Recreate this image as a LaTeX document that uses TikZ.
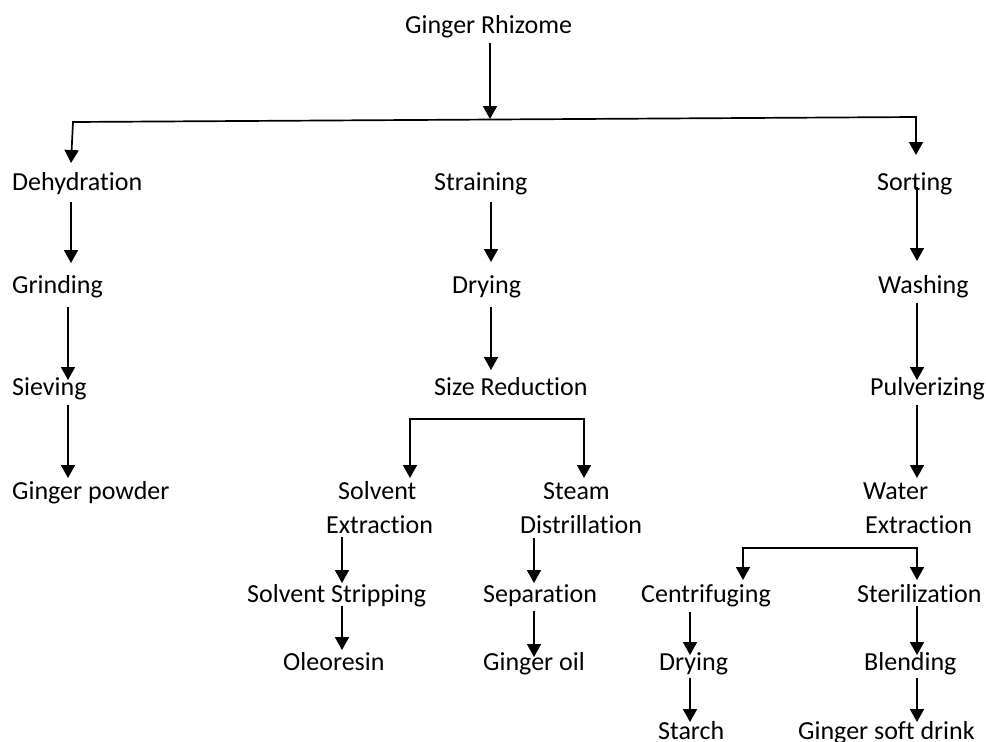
\documentclass[tikz,border=0pt]{standalone}
\usepackage{fontspec}
\setmainfont{Carlito}[Ligatures=NoCommon]
\usetikzlibrary{arrows.meta,calc}

\tikzset{
  lbl/.style={anchor=base west, inner sep=0pt, font=\fontsize{26}{30}\selectfont},
  arr/.style={line width=1.7pt, -{Triangle[width=14pt,length=13pt]}},
  fork/.style={line width=1.7pt, {Triangle[width=14pt,length=13pt]}-{Triangle[width=14pt,length=13pt]}},
}

% arrow from node #1 to node #2 along column #3;
% #4 = start offset below #1's baseline, #5 = tip offset from #2's baseline
\newcommand\flowarrow[5]{%
  \draw[arr] ($(#3 |- #1.base)+(0,#4)$) -- ($(#3 |- #2.base)+(0,#5)$);}

\begin{document}
\begin{tikzpicture}[x=1pt, y=-1pt]
\useasboundingbox (0,0) rectangle (986,742);

% --- labels -------------------------------------------------------
\node[lbl] (rhiz)   at (405,33)  {Ginger Rhizome};

\node[lbl] (dehyd)  at (12,190)  {Dehydration};
\node[lbl] (grind)  at (12,293)  {Grinding};
\node[lbl] (siev)   at (12,395)  {Sieving};
\node[lbl] (gpow)   at (12,499)  {Ginger powder};

\node[lbl] (strain) at (434,190) {Straining};
\node[lbl] (dry)    at (452,293) {Drying};
\node[lbl] (size)   at (434,395) {Size Reduction};
\node[lbl] (solv)   at (338,499) {Solvent};
\node[lbl] (solvx)  at (326,533) {Extraction};
\node[lbl] (steam)  at (543,499) {Steam};
\node[lbl] (distl)  at (520,533) {Distrillation};
\node[lbl] (strip)  at (247,602) {Solvent Stripping};
\node[lbl] (oleo)   at (283,670) {Oleoresin};
\node[lbl] (sep)    at (483,602) {Separation};
\node[lbl] (goil)   at (483,670) {Ginger oil};

\node[lbl] (sort)   at (877,190) {Sorting};
\node[lbl] (wash)   at (878,293) {Washing};
\node[lbl] (pulv)   at (870,395) {Pulverizing};
\node[lbl] (water)  at (863,499) {Water};
\node[lbl] (waterx) at (865,533) {Extraction};
\node[lbl] (cent)   at (641,602) {Centrifuging};
\node[lbl] (dry2)   at (659,670) {Drying};
\node[lbl] (starch) at (658,739) {Starch};
\node[lbl] (steril) at (857,602) {Sterilization};
\node[lbl] (blend)  at (864,670) {Blending};
\node[lbl] (drink)  at (798,739) {Ginger soft drink};

% --- columns and fork corners ------------------------------------
\coordinate (cHub)  at (490,0);
\coordinate (cA)    at (71,0);
\coordinate (cB)    at (68,0);
\coordinate (cMid)  at (491,0);
\coordinate (cR)    at (917,0);
\coordinate (cSE)   at (342,0);
\coordinate (cSD)   at (534,0);
\coordinate (cCen)  at (690,0);

\coordinate (topL)  at (73,122);
\coordinate (topR)  at (916,117);
\coordinate (hub)   at (490,119);
\coordinate (srL)   at (410,419);
\coordinate (srR)   at (584,419);
\coordinate (weL)   at (743,548);
\coordinate (weR)   at (917,548);

% --- main split ---------------------------------------------------
\draw[arr] ($(cHub |- rhiz.base)+(0,10)$) -- (hub);
\draw[fork] ($(cA |- dehyd.base)+(0,-27)$) -- (topL) -- (topR)
            -- ($(topR |- sort.base)+(0,-35)$);

% --- left branch --------------------------------------------------
\flowarrow{dehyd}{grind}{cA}{12}{-30}
\flowarrow{grind}{siev}{cB}{14}{-15}
\flowarrow{siev}{gpow}{cB}{10}{-21}

% --- middle branch ------------------------------------------------
\flowarrow{strain}{dry}{cMid}{12}{-31}
\flowarrow{dry}{size}{cMid}{14}{-25}
\draw[fork] ($(srL |- solv.base)+(0,-21)$) -- (srL) -- (srR)
            -- ($(srR |- steam.base)+(0,-21)$);
\flowarrow{solvx}{strip}{cSE}{4}{-19}
\flowarrow{strip}{oleo}{cSE}{4}{-20}
\flowarrow{distl}{sep}{cSD}{5}{-19}
\flowarrow{sep}{goil}{cSD}{9}{-13}

% --- right branch -------------------------------------------------
\flowarrow{sort}{wash}{cR}{-3}{-32}
\flowarrow{wash}{pulv}{cR}{10}{-15}
\flowarrow{pulv}{water}{cR}{10}{-21}
\draw[fork] ($(weL |- cent.base)+(0,-22)$) -- (weL) -- (weR)
            -- ($(weR |- steril.base)+(0,-22)$);
\flowarrow{cent}{dry2}{cCen}{10}{-15}
\flowarrow{dry2}{starch}{cCen}{8}{-17}
\flowarrow{steril}{blend}{cR}{4}{-15}
\flowarrow{blend}{drink}{cR}{8}{-17}
\end{tikzpicture}
\end{document}
